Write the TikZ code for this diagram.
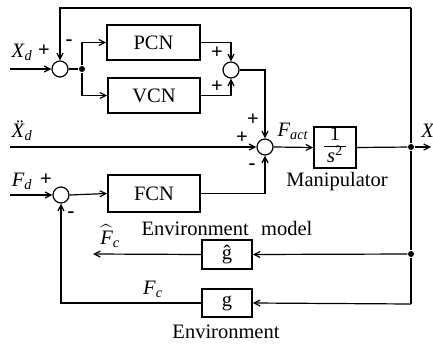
\documentclass[tikz,border=0pt]{standalone}
\usepackage{amsmath}
\usepackage{fontspec}
\setmainfont{Liberation Serif}
\usetikzlibrary{arrows.meta}
\begin{document}
\begin{tikzpicture}[x=1pt,y=-1pt,
  font=\fontsize{20.5}{23}\selectfont,
  line width=1.2pt,
  box/.style={draw,line width=1.7pt,inner sep=0pt},
  sumc/.style={draw,circle,minimum size=16pt,inner sep=0pt,line width=1.2pt},
  dotn/.style={circle,fill,inner sep=0pt,minimum size=6pt},
  arr/.style={-{Straight Barb[length=6pt,width=6pt]}},
  lbl/.style={inner sep=0pt},
  sgn/.style={inner sep=0pt,font=\fontsize{20.5}{23}\selectfont\bfseries}]
\useasboundingbox (0,0) rectangle (433,345);
% blocks
\node[sumc] (s1) at (60,69) {};
\node[dotn] (d1) at (82,69) {};
\node[box,minimum width=93pt,minimum height=35pt] (pcn) at (153.5,42.5) {PCN};
\node[box,minimum width=92pt,minimum height=35pt] (vcn) at (154,95.5) {VCN};
\node[sumc] (s2) at (231,70) {};
\node[sumc] (s3) at (265,147) {};
\node[box,minimum width=42pt,minimum height=39pt] (man) at (335,147.5)
  {\renewcommand\arraystretch{0.72}\begin{tabular}{@{\,}c@{\,}}1\\\hline\textit{s}\textsuperscript{2}\end{tabular}};
\node[dotn] (d2) at (411,147) {};
\coordinate (xout) at (431,147);
\coordinate (tr) at (411,8);
\node[sumc] (s4) at (61,195) {};
\node[box,minimum width=92pt,minimum height=37pt] (fcn) at (154,193.5) {FCN};
\node[box,minimum width=50pt,minimum height=29pt] (gh) at (227,254.5) {ĝ};
\node[box,minimum width=50pt,minimum height=28pt] (g) at (227,303) {g};
\node[dotn] (d3) at (411,254) {};
\coordinate (br) at (411,304);
\coordinate (xdin) at (10,69);
\coordinate (xddin) at (10,147);
\coordinate (fdin) at (10,195);
\coordinate (fhout) at (93,254);
% connectors
\draw[arr] (xdin) -- (s1.west);
\draw (s1.east) -- (d1);
\draw[arr] (d1) |- (pcn.west);
\draw[arr] (d1) |- (vcn.west);
\draw[arr] (pcn.east) -| (s2.north);
\draw[arr] (vcn.east) -| (s2.south);
\draw[arr] (s2.east) -| (s3.north);
\draw[arr] (xddin) -- (s3.west);
\draw[arr] (s3.east) -- (man.west);
\draw (man.east) -- (d2);
\draw[arr] (d2) -- (xout);
\draw (d2) -- (tr);
\draw[arr] (tr) -| (s1.north);
\draw (d2) -- (d3) -- (br);
\draw[arr] (d3) -- (gh.east);
\draw[arr] (gh.west) -- (fhout);
\draw[arr] (br) -- (g.east);
\draw[arr] (g.west) -| (s4.south);
\draw[arr] (fdin) -- (s4.west);
\draw[arr] (s4.east) -- (fcn.west);
\draw[arr] (fcn.east) -| (s3.south);
% labels
\node[lbl] (lxd) at (22,52) {\textit{X}\textsubscript{\textit{d}}};
\node[sgn] (p1) at (44,51) {+};
\node[sgn] (m1) at (69,43) {-};
\node[sgn] (p2) at (217,53) {+};
\node[sgn] (p3) at (217,87) {+};
\node[sgn] (p4) at (253,120) {+};
\node[sgn] (p5) at (242,138) {+};
\node[sgn] (m3) at (252,167) {-};
\node[lbl] (lfact) at (293,131) {\textit{F}\textsubscript{\textit{act}}};
\node[lbl] (lx) at (428,131) {\textit{X}};
\node[lbl] (lxdd) at (22,131) {\textit{\"X}\textsubscript{\textit{d}}};
\node[lbl] (lman) at (337,182) {Manipulator};
\node[lbl] (lfd) at (22,181) {\textit{F}\textsubscript{\textit{d}}};
\node[sgn] (p6) at (46,180) {+};
\node[sgn] (m4) at (71,215) {-};
\node[lbl] (lfh) at (110,236) {$\widehat{\textit{F}}$\textsubscript{\textit{c}}};
\node[lbl] (lfc) at (153,289) {\textit{F}\textsubscript{\textit{c}}};
\node[lbl] (lem) at (227,228) {Environment\hspace{0.6em}model};
\node[lbl] (len) at (226,332) {Environment};
\end{tikzpicture}
\end{document}
